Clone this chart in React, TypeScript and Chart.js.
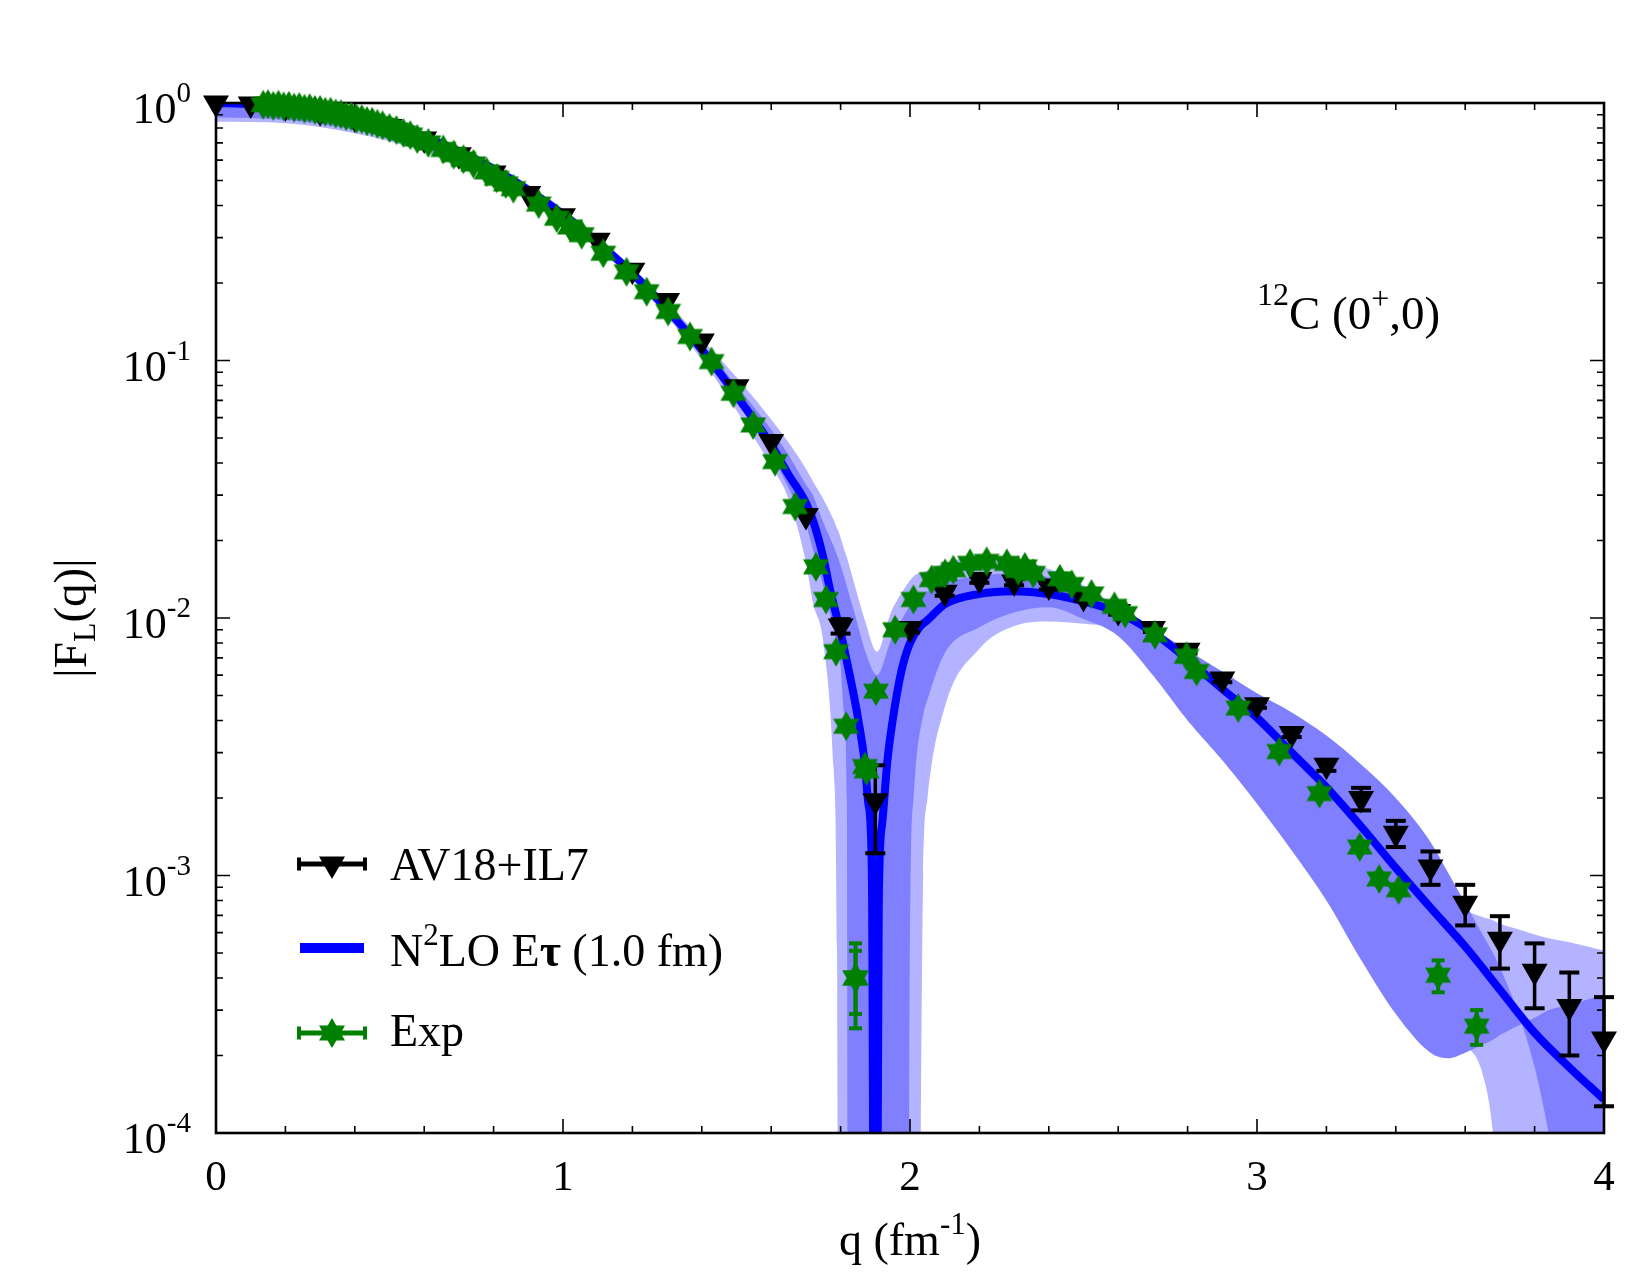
import React, { useEffect, useRef } from "react";
import { Chart, registerables } from "chart.js";

Chart.register(...registerables);

const FONT = '"Liberation Serif", "DejaVu Serif", serif';

// AV18+IL7 (GFMC) longitudinal form factor, q in fm^-1
const av18Q = [
  0, 0.1, 0.2, 0.3, 0.4, 0.5, 0.6, 0.7, 0.8, 0.9, 1.0, 1.1, 1.2, 1.3, 1.4, 1.5, 1.6, 1.7, 1.8, 1.9, 2.0,
  2.1, 2.2, 2.3, 2.4, 2.5, 2.6, 2.7, 2.8, 2.9, 3.0, 3.1, 3.2, 3.3, 3.4, 3.5, 3.6, 3.7, 3.8, 3.9, 4.0,
];
const av18F = [
  1.0, 0.99, 0.965, 0.925, 0.875, 0.81, 0.725, 0.63, 0.535, 0.445, 0.365, 0.293, 0.224, 0.171, 0.119,
  0.079, 0.0485, 0.025, 0.0093, 0.00195, 0.0091, 0.0126, 0.0141, 0.0138, 0.0133, 0.012, 0.0106, 0.0091,
  0.0075, 0.0058, 0.0046, 0.00356, 0.00268, 0.00199, 0.00146, 0.00108, 0.00078, 0.000565, 0.000425,
  0.00031, 0.000232,
];
const av18Err = [
  0, 0, 0, 0, 0, 0, 0, 0, 0, 0, 0, 0, 0, 0, 0, 0, 0, 0, 0.0006, 0.00073, 0.0003, 0.0004, 0.0004, 0.0004,
  0.0004, 0.00035, 0.0003, 0.00027, 0.00022, 0.00017, 0.00012, 0.00011, 0.00013, 0.0002, 0.00017,
  0.00016, 0.00014, 0.00013, 0.00012, 0.00011, 0.000105,
];

// Experimental data
const expQ = [
  0.136, 0.15, 0.165, 0.18, 0.195, 0.21, 0.225, 0.24, 0.255, 0.27, 0.285, 0.3, 0.315, 0.33, 0.345, 0.36,
  0.375, 0.39, 0.405, 0.42, 0.435, 0.45, 0.465, 0.48, 0.5, 0.52, 0.54, 0.56, 0.58, 0.612, 0.655, 0.685,
  0.713, 0.742, 0.78, 0.809, 0.835, 0.857, 0.93, 0.982, 1.02, 1.054, 1.116, 1.183, 1.241, 1.303, 1.366,
  1.428, 1.491, 1.548, 1.611, 1.669, 1.729, 1.758, 1.787, 1.816, 1.843, 1.843, 1.87, 1.875, 1.902, 1.957,
  2.01, 2.062, 2.101, 2.125, 2.173, 2.221, 2.279, 2.312, 2.331, 2.355, 2.432, 2.466, 2.523, 2.589, 2.62,
  2.706, 2.797, 2.826, 2.946, 3.064, 3.18, 3.296, 3.352, 3.408, 3.522, 3.633,
];
const expF = [
  0.985, 0.99, 0.975, 0.985, 0.97, 0.975, 0.96, 0.965, 0.95, 0.955, 0.94, 0.94, 0.925, 0.925, 0.91, 0.905,
  0.89, 0.89, 0.87, 0.865, 0.85, 0.845, 0.83, 0.82, 0.8, 0.785, 0.765, 0.75, 0.725, 0.7, 0.66, 0.63,
  0.605, 0.58, 0.54, 0.51, 0.485, 0.465, 0.405, 0.357, 0.33, 0.308, 0.261, 0.221, 0.185, 0.155, 0.124,
  0.099, 0.0746, 0.0562, 0.0405, 0.0271, 0.0158, 0.0118, 0.0074, 0.0038, 0.0004, 0.0004, 0.00265,
  0.00255, 0.0052, 0.009, 0.0118, 0.0141, 0.0149, 0.0154, 0.0163, 0.0166, 0.0163, 0.0153, 0.0158,
  0.0149, 0.0142, 0.0135, 0.0124, 0.0111, 0.0104, 0.0086, 0.0071, 0.0062, 0.00447, 0.00303, 0.00208,
  0.00129, 0.00097, 0.00088, 0.00041, 0.00026,
];
const expErr = expQ.map((q, i) =>
  i === 56 ? 0.000145 : i === 57 ? 0.00011 : q === 3.522 ? 0.000058 : q === 3.633 ? 0.00004 : 0
);

// N2LO E-tau (1.0 fm) central curve
const n2loQ = [
  0, 0.1, 0.2, 0.3, 0.4, 0.5, 0.6, 0.7, 0.8, 0.9, 1.0, 1.1, 1.2, 1.3, 1.4, 1.5, 1.6, 1.65, 1.7, 1.72,
  1.75, 1.77, 1.8, 1.82, 1.85, 1.87, 1.88, 1.89, 1.9, 1.91, 1.92, 1.935, 1.95, 1.975, 2.0, 2.03, 2.05,
  2.1, 2.2, 2.3, 2.4, 2.5, 2.6, 2.7, 2.8, 2.9, 3.0, 3.1, 3.2, 3.3, 3.4, 3.5, 3.6, 3.7, 3.8, 3.9, 4.0,
];
const n2loF = [
  1.0, 0.99, 0.967, 0.93, 0.88, 0.815, 0.74, 0.65, 0.555, 0.46, 0.37, 0.288, 0.218, 0.158, 0.11, 0.073,
  0.047, 0.036, 0.028, 0.024, 0.0172, 0.0128, 0.0088, 0.0066, 0.0041, 0.0027, 0.0019, 0.00105, 1e-6,
  0.0008, 0.0016, 0.0028, 0.004, 0.0062, 0.008, 0.0093, 0.0098, 0.0113, 0.0124, 0.0127, 0.0124, 0.0116,
  0.0105, 0.0088, 0.0069, 0.0053, 0.0041, 0.003, 0.0022, 0.00155, 0.00107, 0.00075, 0.00053, 0.00036,
  0.000245, 0.00018, 0.000135,
];

// Uncertainty bands (inner = darker, outer = lighter)
const bandQ = [
  0, 0.2, 0.4, 0.6, 0.8, 1.0, 1.2, 1.4, 1.5, 1.6, 1.65, 1.7, 1.72, 1.75, 1.78, 1.79, 1.795, 1.8, 1.81,
  1.818, 1.822, 1.84, 1.87, 1.905, 1.945, 1.995, 2.0, 2.01, 2.018, 2.038, 2.05, 2.1, 2.2, 2.3, 2.4, 2.5,
  2.6, 2.7, 2.8, 2.9, 3.0, 3.1, 3.2, 3.3, 3.4, 3.5, 3.55, 3.6, 3.65, 3.68, 3.7, 3.75, 3.8, 3.84, 3.9, 4.0,
];
const innerLo = [
  0.88, 0.86, 0.785, 0.665, 0.52, 0.352, 0.21, 0.105, 0.069, 0.043, 0.032, 0.023, 0.0185, 0.0133, 0.009,
  0.0079, 0.0073, 0.0065, 0.0043, 0.00197, 1e-6, 1e-6, 1e-6, 1e-6, 1e-6, 1e-6, 0.0006, 0.00197, 0.0028,
  0.0042, 0.0048, 0.0073, 0.0092, 0.0105, 0.011, 0.0099, 0.0085, 0.006, 0.004, 0.0028, 0.0019, 0.00125,
  0.0008, 0.00047, 0.00029, 0.000205, 0.000195, 0.000205, 0.00022, 0.00023, 0.00024, 0.00026, 0.00028,
  0.0003, 0.000315, 0.000345,
];
const innerHi = [
  1.0, 0.97, 0.885, 0.745, 0.56, 0.377, 0.224, 0.116, 0.08, 0.054, 0.043, 0.033, 0.03, 0.0235, 0.019,
  0.0175, 0.0168, 0.016, 0.0145, 0.0133, 0.0127, 0.0105, 0.0075, 0.006, 0.0082, 0.0109, 0.0112, 0.0117,
  0.012, 0.0125, 0.0127, 0.0137, 0.0146, 0.0149, 0.0144, 0.0129, 0.0112, 0.0091, 0.0075, 0.0062, 0.0051,
  0.0043, 0.0035, 0.0027, 0.002, 0.00135, 0.00103, 0.00078, 0.00059, 0.0005, 0.00044, 0.0003, 0.00018,
  0.0001, 0.00003, 0.000005,
];
const outerLo = [
  0.845, 0.835, 0.763, 0.648, 0.51, 0.345, 0.206, 0.101, 0.064, 0.039, 0.029, 0.0165, 0.0115, 0.0081,
  0.0026, 0.0005, 1e-6, 1e-6, 1e-6, 1e-6, 1e-6, 1e-6, 1e-6, 1e-6, 1e-6, 1e-6, 1e-6, 1e-6, 1e-6, 0.001,
  0.00197, 0.0045, 0.0076, 0.0093, 0.0097, 0.0095, 0.009, 0.0068, 0.005, 0.0036, 0.0025, 0.0017, 0.0011,
  0.0007, 0.00042, 0.00028, 0.00025, 0.00022, 0.00017, 0.0001, 0.00004, 0.000008, 1e-6, 1e-6, 1e-6, 1e-6,
];
const outerHi = [
  1.0, 0.975, 0.892, 0.752, 0.568, 0.383, 0.229, 0.121, 0.086, 0.059, 0.048, 0.038, 0.034, 0.029, 0.024,
  0.0222, 0.0215, 0.0205, 0.0185, 0.0172, 0.0165, 0.0135, 0.0098, 0.0074, 0.0105, 0.0137, 0.014, 0.0145,
  0.0148, 0.0151, 0.0153, 0.0164, 0.0172, 0.0169, 0.0155, 0.0134, 0.0106, 0.0086, 0.007, 0.0057, 0.0046,
  0.0037, 0.0029, 0.0022, 0.00155, 0.00105, 0.00088, 0.00074, 0.00069, 0.00067, 0.00065, 0.00062,
  0.00059, 0.00057, 0.00055, 0.00051,
];

const xTicks = [0, 1, 2, 3, 4];
const yTickExps = [0, -1, -2, -3, -4];

const GREEN = "#008000";
const BLUE = "#0000ff";
const INNER = "#8080ff";
const OUTER = "#b3b3ff";

type Run = { t: string; px: number; rise?: number; bold?: boolean };

const runFont = (r: Run) => `${r.bold ? "bold " : ""}${r.px}px ${FONT}`;

function drawRuns(ctx: CanvasRenderingContext2D, runs: Run[], x: number, y: number, align: string) {
  let w = 0;
  for (const r of runs) {
    ctx.font = runFont(r);
    w += ctx.measureText(r.t).width;
  }
  let cx = align === "left" ? x : align === "center" ? x - w / 2 : x - w;
  ctx.textAlign = "left";
  ctx.textBaseline = "alphabetic";
  for (const r of runs) {
    ctx.font = runFont(r);
    ctx.fillText(r.t, cx, y - (r.rise || 0));
    cx += ctx.measureText(r.t).width;
  }
}

function hexagram(r: number, color: string) {
  const s = Math.ceil(2 * r + 2);
  const c = document.createElement("canvas");
  c.width = s;
  c.height = s;
  const g = c.getContext("2d")!;
  g.fillStyle = color;
  g.translate(s / 2, s / 2);
  for (const off of [-Math.PI / 2, Math.PI / 2]) {
    g.beginPath();
    for (let k = 0; k < 3; k++) {
      const a = off + (k * 2 * Math.PI) / 3;
      const px = r * Math.cos(a);
      const py = r * Math.sin(a);
      if (k === 0) g.moveTo(px, py);
      else g.lineTo(px, py);
    }
    g.closePath();
    g.fill();
  }
  return c;
}

function downTriangle(ctx: CanvasRenderingContext2D, x: number, y: number, r: number) {
  const s = Math.sin(Math.PI / 3) * r;
  ctx.beginPath();
  ctx.moveTo(x, y + r);
  ctx.lineTo(x - s, y - r / 2);
  ctx.lineTo(x + s, y - r / 2);
  ctx.closePath();
  ctx.fill();
}

function drawErrors(
  chart: any,
  qs: number[],
  fs: number[],
  errs: number[],
  color: string,
  stem: number,
  capHalf: number,
  capT: number
) {
  const { ctx, scales } = chart;
  const xs = scales.x;
  const ys = scales.y;
  ctx.save();
  ctx.fillStyle = color;
  qs.forEach((q, i) => {
    const e = errs[i];
    if (!e) return;
    const x = xs.getPixelForValue(q);
    const yt = ys.getPixelForValue(fs[i] + e);
    const yb = ys.getPixelForValue(Math.max(fs[i] - e, 1e-6));
    ctx.fillRect(x - stem / 2, yt, stem, yb - yt);
    ctx.fillRect(x - capHalf, yt - capT / 2, capHalf * 2, capT);
    ctx.fillRect(x - capHalf, yb - capT / 2, capHalf * 2, capT);
  });
  ctx.restore();
}

function drawFrame(chart: any) {
  const { ctx, chartArea: a, scales } = chart;
  const xs = scales.x;
  const ys = scales.y;
  ctx.save();
  ctx.strokeStyle = "#000";
  ctx.lineWidth = 1.6;
  ctx.beginPath();
  for (let i = 0; i <= 20; i++) {
    const len = i % 5 === 0 ? 14 : 7;
    const x = xs.getPixelForValue(i * 0.2);
    ctx.moveTo(x, a.bottom);
    ctx.lineTo(x, a.bottom - len);
    ctx.moveTo(x, a.top);
    ctx.lineTo(x, a.top + len);
  }
  for (let e = -4; e <= 0; e++) {
    for (let m = 1; m <= 9; m++) {
      if (e === 0 && m > 1) break;
      const y = ys.getPixelForValue(m * Math.pow(10, e));
      const len = m === 1 ? 14 : 7;
      ctx.moveTo(a.left, y);
      ctx.lineTo(a.left + len, y);
      ctx.moveTo(a.right, y);
      ctx.lineTo(a.right - len, y);
    }
  }
  ctx.stroke();
  ctx.lineWidth = 2.6;
  ctx.strokeRect(a.left, a.top, a.right - a.left, a.bottom - a.top);
  ctx.restore();
}

function drawTexts(chart: any, star: HTMLCanvasElement) {
  const { ctx, chartArea: a, scales } = chart;
  const xs = scales.x;
  const ys = scales.y;
  ctx.save();
  ctx.fillStyle = "#000";

  // tick labels
  for (const t of xTicks) {
    drawRuns(ctx, [{ t: String(t), px: 43 }], xs.getPixelForValue(t), a.bottom + 57, "center");
  }
  for (const e of yTickExps) {
    const y = ys.getPixelForValue(Math.pow(10, e));
    drawRuns(
      ctx,
      [{ t: "10", px: 44 }, { t: e === 0 ? "0" : `-${-e}`, px: 29, rise: 21 }],
      a.left - 25,
      y + 20,
      "right"
    );
  }

  // axis titles
  drawRuns(
    ctx,
    [{ t: "q (fm", px: 46 }, { t: "-1", px: 31, rise: 21 }, { t: ")", px: 46 }],
    (a.left + a.right) / 2,
    a.bottom + 122,
    "center"
  );
  ctx.save();
  ctx.translate(86, (a.top + a.bottom) / 2);
  ctx.rotate(-Math.PI / 2);
  drawRuns(ctx, [{ t: "|F", px: 47 }, { t: "L", px: 32, rise: -9 }, { t: "(q)|", px: 47 }], 0, 0, "center");
  ctx.restore();

  // nucleus / state label
  drawRuns(
    ctx,
    [
      { t: "12", px: 32, rise: 24 },
      { t: "C (0", px: 47 },
      { t: "+", px: 32, rise: 20 },
      { t: ",0)", px: 47 },
    ],
    1257,
    329,
    "left"
  );

  // legend
  const lx0 = 299;
  const lx1 = 365;
  const lxm = 332;
  const tx = 390;
  // AV18+IL7
  let ly = 864;
  ctx.fillStyle = "#000";
  ctx.fillRect(lx0, ly - 2.5, lx1 - lx0, 5);
  ctx.fillRect(lx0 - 2, ly - 6.5, 4, 13);
  ctx.fillRect(lx1 - 2, ly - 6.5, 4, 13);
  downTriangle(ctx, lxm, ly, 15);
  drawRuns(ctx, [{ t: "AV18+IL7", px: 46 }], tx, 880, "left");
  // N2LO
  ly = 948;
  ctx.fillStyle = BLUE;
  ctx.fillRect(lx0 + 1, ly - 5, lx1 - lx0 - 2, 10);
  ctx.fillStyle = "#000";
  drawRuns(
    ctx,
    [
      { t: "N", px: 46 },
      { t: "2", px: 31, rise: 21 },
      { t: "LO E", px: 46 },
      { t: "τ", px: 46, bold: true },
      { t: " (1.0 fm)", px: 46 },
    ],
    tx,
    966,
    "left"
  );
  // Exp
  ly = 1033;
  ctx.fillStyle = GREEN;
  ctx.fillRect(lx0, ly - 2.5, lx1 - lx0, 5);
  ctx.fillRect(lx0 - 2, ly - 6.5, 4, 13);
  ctx.fillRect(lx1 - 2, ly - 6.5, 4, 13);
  ctx.drawImage(star, lxm - star.width / 2, ly - star.height / 2);
  ctx.fillStyle = "#000";
  drawRuns(ctx, [{ t: "Exp", px: 46 }], tx, 1046, "left");

  ctx.restore();
}

const pts = (qs: number[], fs: number[]) => qs.map((q, i) => ({ x: q, y: fs[i] }));

export default function App() {
  const canvasRef = useRef<HTMLCanvasElement | null>(null);

  useEffect(() => {
    const canvas = canvasRef.current;
    if (!canvas) return;
    const star = hexagram(15, GREEN);

    const bandBase = {
      borderWidth: 0,
      borderColor: "rgba(0,0,0,0)",
      pointRadius: 0,
      cubicInterpolationMode: "monotone" as const,
      clip: 0,
    };

    const overlay = {
      id: "formFactorDecor",
      afterDatasetDraw(chart: any, args: any) {
        if (args.index === 2) drawFrame(chart);
      },
      beforeDatasetDraw(chart: any, args: any) {
        if (args.index === 1) drawErrors(chart, av18Q, av18F, av18Err, "#000", 3.5, 10, 4);
        if (args.index === 0) drawErrors(chart, expQ, expF, expErr, GREEN, 4, 6.5, 4);
      },
      afterDraw(chart: any) {
        drawTexts(chart, star);
      },
    };

    const chart = new Chart(canvas, {
      type: "line",
      data: {
        datasets: [
          {
            label: "Exp",
            data: pts(expQ, expF),
            showLine: false,
            pointStyle: star,
            pointRadius: 15,
            order: 0,
            clip: false,
          } as any,
          {
            label: "AV18+IL7",
            data: pts(av18Q, av18F),
            showLine: false,
            pointStyle: "triangle",
            pointRotation: 180,
            pointRadius: 15,
            pointBackgroundColor: "#000",
            pointBorderColor: "#000",
            pointBorderWidth: 0,
            order: 1,
            clip: false,
          },
          {
            label: "N2LO Eτ (1.0 fm)",
            data: pts(n2loQ, n2loF),
            borderColor: BLUE,
            borderWidth: 8,
            pointRadius: 0,
            fill: false,
            cubicInterpolationMode: "monotone",
            order: 2,
            clip: 0,
          },
          { ...bandBase, label: "inner hi", data: pts(bandQ, innerHi), fill: 4, backgroundColor: INNER, order: 3 },
          { ...bandBase, label: "inner lo", data: pts(bandQ, innerLo), fill: false, order: 4 },
          { ...bandBase, label: "outer hi", data: pts(bandQ, outerHi), fill: 6, backgroundColor: OUTER, order: 5 },
          { ...bandBase, label: "outer lo", data: pts(bandQ, outerLo), fill: false, order: 6 },
        ],
      },
      options: {
        animation: false,
        responsive: false,
        devicePixelRatio: 1,
        events: [],
        layout: { padding: { left: 216, top: 103, right: 46, bottom: 142 } },
        scales: {
          x: { type: "linear", min: 0, max: 4, display: false },
          y: { type: "logarithmic", min: 1e-4, max: 1, display: false },
        },
        plugins: {
          legend: { display: false },
          tooltip: { enabled: false },
        },
      },
      plugins: [overlay],
    });

    return () => chart.destroy();
  }, []);

  return (
    <div style={{ position: "absolute", left: 0, top: 0, width: 1650, height: 1275, background: "#fff" }}>
      <canvas ref={canvasRef} width={1650} height={1275} style={{ display: "block" }} />
    </div>
  );
}
